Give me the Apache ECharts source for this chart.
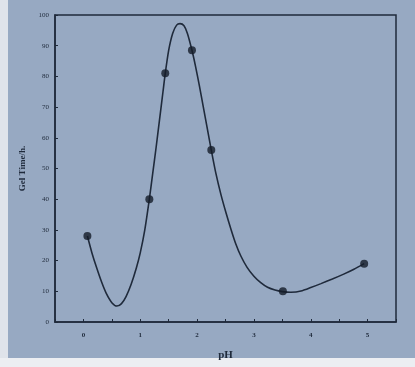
<!DOCTYPE html>
<html><head><meta charset="utf-8">
<script src="https://cdn.jsdelivr.net/npm/echarts@6/dist/echarts.min.js"></script>
<style>html,body{margin:0;padding:0;background:#e6e9ee;}#c{width:415px;height:367px;}</style>
</head><body><div id="c"></div>
<script>
// measured data points (pH, gel time in h)
var pointPH = [0.07, 1.16, 1.44, 1.91, 2.25, 3.51, 4.94];
var pointTime = [28, 40, 81, 88.5, 56, 10, 19];
// fitted curve
var curvePH = [0.07, 0.15, 0.23, 0.32, 0.40, 0.50, 0.59, 0.67, 0.75, 0.84, 0.93, 1.00, 1.08, 1.16, 1.22, 1.28, 1.34, 1.40, 1.44, 1.50, 1.57, 1.64, 1.70, 1.77, 1.83, 1.91, 1.97, 2.04, 2.11, 2.18, 2.25, 2.33, 2.42, 2.51, 2.60, 2.68, 2.77, 2.88, 3.00, 3.12, 3.24, 3.37, 3.50, 3.65, 3.85, 4.00, 4.18, 4.38, 4.58, 4.76, 4.94];
var curveTime = [28, 22.5, 17.8, 13, 9.4, 6.3, 5.2, 6, 8.3, 12.3, 17.5, 22.5, 30, 40, 48.5, 57, 66, 75, 81, 88.5, 94, 96.7, 97.2, 96.5, 94, 88.5, 83.5, 77, 70, 63, 56, 48.5, 41.5, 35.5, 30, 25.5, 21.5, 17.8, 14.9, 12.8, 11.3, 10.4, 9.9, 9.7, 10.2, 11.2, 12.5, 14, 15.6, 17.2, 19];
var xTickLabels = ['0', '1', '2', '3', '4', '5'];
var yTicks = [0, 10, 20, 30, 40, 50, 60, 70, 80, 90, 100];

var ink = '#1f2a3b';
var chart = echarts.init(document.getElementById('c'));
chart.setOption({
  backgroundColor: '#97a9c2',
  animation: false,
  graphic: [
    {type: 'rect', left: 0, top: 0, shape: {width: 8, height: 367}, style: {fill: '#dfe3ea'}, z: -1},
    {type: 'rect', left: 0, top: 358, shape: {width: 415, height: 9}, style: {fill: '#eceef2'}, z: -1}
  ],
  grid: {left: 55, right: 19, top: 15, bottom: 45, show: true, borderColor: ink, borderWidth: 1.5, backgroundColor: 'transparent'},
  xAxis: {
    type: 'value', min: -0.5, max: 5.5, interval: 0.5,
    name: 'pH', nameLocation: 'middle', nameGap: 28,
    nameTextStyle: {color: ink, fontFamily: 'Liberation Serif', fontWeight: 'bold', fontSize: 11},
    axisLine: {show: true, onZero: false, lineStyle: {color: ink, width: 1.5}},
    axisTick: {show: true, inside: true, length: 3, lineStyle: {color: ink}},
    axisLabel: {color: ink, fontFamily: 'Liberation Serif', fontWeight: 'bold', fontSize: 7, margin: 10,
      formatter: function (v) { var i = xTickLabels.indexOf(String(v)); return i >= 0 ? xTickLabels[i] : ''; }},
    splitLine: {show: false}
  },
  yAxis: {
    type: 'value', min: 0, max: 100, interval: 10,
    name: 'Gel Time/h.', nameLocation: 'middle', nameGap: 14,
    nameTextStyle: {color: ink, fontFamily: 'Liberation Serif', fontWeight: 'bold', fontSize: 9},
    axisLine: {show: true, onZero: false, lineStyle: {color: ink, width: 1.5}},
    axisTick: {show: true, inside: true, length: 3, lineStyle: {color: ink}},
    axisLabel: {color: ink, fontFamily: 'Liberation Serif', fontSize: 7, margin: 6,
      formatter: function (v) { return yTicks.indexOf(v) >= 0 ? String(v) : ''; }},
    splitLine: {show: false}
  },
  series: [
    {type: 'line', data: curvePH.map(function (x, i) { return [x, curveTime[i]]; }),
     smooth: 0.25, showSymbol: false, lineStyle: {color: ink, width: 1.6}, z: 2},
    {type: 'scatter', data: pointPH.map(function (x, i) { return [x, pointTime[i]]; }),
     symbolSize: 8, itemStyle: {color: '#141c28'}, z: 3}
  ]
});
</script></body></html>
